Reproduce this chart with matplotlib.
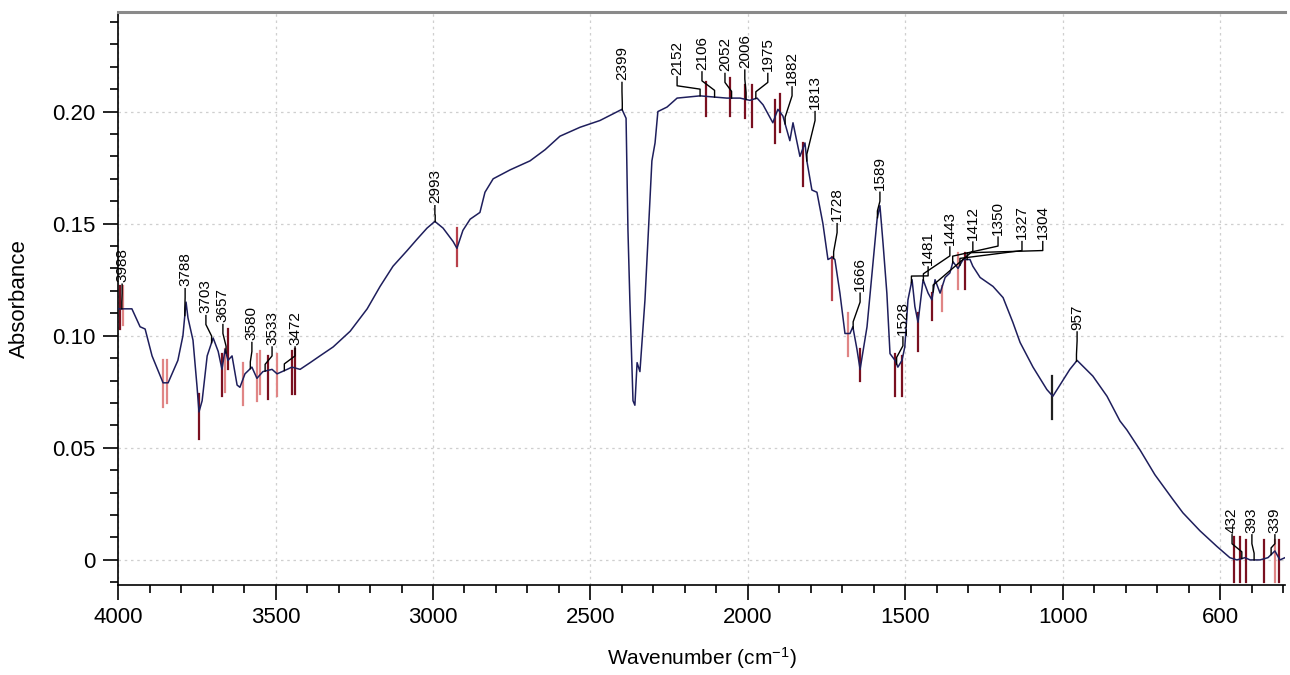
import numpy as np
import matplotlib.pyplot as plt
from matplotlib.ticker import FixedLocator

plt.rcParams['font.family'] = ['Liberation Sans', 'DejaVu Sans']
plt.rcParams['mathtext.default'] = 'regular'

# Spectrum (wavenumber in cm-1, absorbance)
wavenumber = [4000, 3956, 3930, 3914, 3892, 3857, 3841, 3810, 3794, 3784, 3778, 3762, 3749, 3743,
              3733, 3717, 3698, 3682, 3670, 3660, 3651, 3638, 3622, 3613, 3597, 3575, 3559, 3540,
              3511, 3495, 3463, 3448, 3422, 3390, 3359, 3317, 3263, 3209, 3168, 3127, 3082, 3051,
              3019, 2994, 2968, 2936, 2924, 2905, 2882, 2851, 2835, 2809, 2755, 2692, 2644, 2597,
              2533, 2470, 2400, 2387, 2381, 2375, 2365, 2359, 2352, 2343, 2327, 2311, 2305, 2295,
              2286, 2257, 2225, 2152, 2067, 2025, 1994, 1971, 1952, 1921, 1905, 1889, 1867, 1857,
              1835, 1819, 1813, 1797, 1781, 1762, 1746, 1733, 1724, 1708, 1692, 1676, 1667, 1654,
              1644, 1622, 1606, 1590, 1581, 1571, 1559, 1549, 1533, 1524, 1511, 1502, 1492, 1479,
              1470, 1460, 1444, 1428, 1416, 1406, 1390, 1374, 1359, 1349, 1333, 1317, 1295, 1286,
              1263, 1222, 1190, 1159, 1136, 1095, 1051, 1032, 978, 955, 905, 860, 819, 797, 755,
              708, 651, 619, 565, 511, 470, 448, 422, 406, 374, 349, 327, 311, 295]
absorbance = [0.112, 0.112, 0.104, 0.103, 0.091, 0.079, 0.079, 0.089, 0.100, 0.115, 0.108, 0.098, 0.077, 0.066,
              0.071, 0.091, 0.099, 0.093, 0.085, 0.094, 0.089, 0.091, 0.078, 0.077, 0.083, 0.086, 0.081, 0.084,
              0.085, 0.083, 0.085, 0.086, 0.085, 0.088, 0.091, 0.095, 0.102, 0.112, 0.122, 0.131, 0.138, 0.143,
              0.148, 0.151, 0.148, 0.142, 0.139, 0.147, 0.152, 0.155, 0.164, 0.170, 0.174, 0.178, 0.183, 0.189,
              0.193, 0.196, 0.201, 0.197, 0.147, 0.116, 0.071, 0.069, 0.088, 0.084, 0.116, 0.161, 0.178, 0.186,
              0.200, 0.202, 0.206, 0.207, 0.206, 0.206, 0.205, 0.206, 0.203, 0.195, 0.201, 0.198, 0.187, 0.195,
              0.180, 0.186, 0.178, 0.165, 0.164, 0.150, 0.134, 0.135, 0.134, 0.119, 0.101, 0.101, 0.104, 0.094,
              0.085, 0.104, 0.128, 0.152, 0.158, 0.141, 0.119, 0.092, 0.089, 0.086, 0.089, 0.095, 0.116, 0.125,
              0.113, 0.106, 0.125, 0.119, 0.116, 0.125, 0.119, 0.126, 0.128, 0.133, 0.130, 0.134, 0.134, 0.131,
              0.126, 0.122, 0.117, 0.106, 0.097, 0.086, 0.076, 0.073, 0.085, 0.089, 0.082, 0.073, 0.062, 0.058, 0.049,
              0.038, 0.027, 0.021, 0.013, 0.006, 0.001, 0.000, 0.001, 0.000, 0.000, 0.001, 0.004, 0.000, 0.001]

# Labelled peaks and where their numbers sit
peak_wn = [3988, 3788, 3703, 3657, 3580, 3533, 3472, 2993, 2399, 2152, 2106, 2052, 2006, 1975, 1882,
           1813, 1728, 1666, 1589, 1528, 1481, 1443, 1412, 1350, 1327, 1304, 957, 432, 393, 339]
label_wn = [3987, 3787, 3721, 3667, 3575, 3511, 3438, 2994, 2400, 2225, 2146, 2073, 2010, 1937, 1860,
            1787, 1717, 1644, 1581, 1508, 1428, 1359, 1286, 1206, 1130, 1064, 955, 463, 400, 327]
label_abs = [0.123, 0.121, 0.109, 0.105, 0.097, 0.095, 0.095, 0.158, 0.213, 0.2155, 0.2177, 0.217, 0.2185,
             0.217, 0.211, 0.200, 0.150, 0.119, 0.164, 0.0995, 0.1307, 0.1396, 0.1418, 0.144, 0.142, 0.142,
             0.1017, 0.0112, 0.0112, 0.0112]

# Red / pink marker lines (wavenumber, low, high, shade)
marker_wn = [3994, 3984, 3857, 3844, 3743, 3670, 3660, 3651, 3603, 3559, 3549, 3524, 3495, 3448, 3438,
             2924, 2133, 2057, 2010, 1988, 1914, 1898, 1825, 1733, 1683, 1645, 1533, 1511, 1460, 1416,
             1384, 1333, 1311, 1035, 457, 438, 419, 362, 327, 314]
marker_low = [0.103, 0.105, 0.068, 0.070, 0.054, 0.073, 0.075, 0.085, 0.069, 0.071, 0.074, 0.072, 0.073,
              0.074, 0.074, 0.131, 0.198, 0.198, 0.197, 0.193, 0.186, 0.191, 0.167, 0.116, 0.091, 0.080,
              0.073, 0.073, 0.093, 0.107, 0.111, 0.121, 0.121, 0.063, -0.010, -0.010, -0.010, -0.010,
              -0.010, -0.010]
marker_high = [0.122, 0.122, 0.089, 0.089, 0.074, 0.092, 0.094, 0.103, 0.088, 0.092, 0.093, 0.091, 0.092,
               0.093, 0.094, 0.148, 0.213, 0.215, 0.212, 0.212, 0.205, 0.208, 0.186, 0.135, 0.110, 0.094,
               0.092, 0.091, 0.110, 0.119, 0.122, 0.137, 0.137, 0.082, 0.010, 0.010, 0.009, 0.009,
               0.009, 0.009]
marker_shade = ['dark', 'pink', 'pink', 'pink', 'dark', 'dark', 'pink', 'dark', 'pink', 'pink', 'pink',
                'dark', 'pink', 'dark', 'dark', 'red', 'dark', 'dark', 'dark', 'dark', 'dark', 'dark',
                'dark', 'red', 'pink', 'dark', 'dark', 'dark', 'dark', 'dark', 'pink', 'pink', 'dark',
                'black', 'dark', 'dark', 'dark', 'dark', 'pink', 'dark']
shade_colors = {'dark': '#7a1020', 'pink': '#e08585', 'red': '#b8404a', 'black': '#202020'}

x_ticks = [4000, 3500, 3000, 2500, 2000, 1500, 1000, 500]
x_tick_labels = ['4000', '3500', '3000', '2500', '2000', '1500', '1000', '600']
y_ticks = [0, 0.05, 0.10, 0.15, 0.20]
y_tick_labels = ['0', '0.05', '0.10', '0.15', '0.20']

fig = plt.figure(figsize=(12.9, 6.75), dpi=100)
ax = fig.add_axes([0.0915, 0.1333, 0.9046, 0.8489])

# markers first so the curve sits on top
for w, lo, hi, s in zip(marker_wn, marker_low, marker_high, marker_shade):
    ax.plot([w, w], [lo, hi], color=shade_colors[s], lw=1.6, zorder=2)

ax.plot(wavenumber, absorbance, color='#1e1e5c', lw=1.1, zorder=3)

# peak labels with leader lines
wn_asc = np.array(wavenumber[::-1])
ab_asc = np.array(absorbance[::-1])
for p, tw, ta in zip(peak_wn, label_wn, label_abs):
    pa = np.interp(p, wn_asc, ab_asc)
    xs = [p, p, tw, tw]
    ys = [pa, pa + 0.003, ta - 0.004, ta]
    ax.plot(xs, ys, color='black', lw=1.0, zorder=4)
    ax.text(tw, ta + 0.001, str(p), rotation=90, ha='center', va='bottom',
            fontsize=11, family=['Liberation Sans Narrow', 'Liberation Sans'], zorder=5)

ax.set_xlim(4000, 295)
ax.set_ylim(-0.0112, 0.2444)

ax.set_xticks(x_ticks, labels=x_tick_labels)
ax.xaxis.set_minor_locator(FixedLocator([v for v in range(4000, 290, -100) if v not in x_ticks]))
ax.set_yticks(y_ticks, labels=y_tick_labels)
ax.yaxis.set_minor_locator(FixedLocator([v / 100 for v in range(-1, 25) if v % 5 != 0]))

ax.tick_params(which='major', direction='out', length=11, width=1.2, labelsize=16, pad=5)
ax.tick_params(which='minor', direction='out', length=6, width=1.2)

ax.grid(True, which='major', linestyle=(0, (2, 3)), color='#cfcfcf', lw=0.9, zorder=0)

ax.spines['right'].set_visible(False)
ax.spines['top'].set_color('#8a8a8a')
ax.spines['top'].set_linewidth(2.2)
ax.spines['left'].set_linewidth(1.2)
ax.spines['bottom'].set_linewidth(1.2)

ax.set_xlabel('Wavenumber (cm$^{-1}$)', fontsize=15, labelpad=12)
ax.set_ylabel('Absorbance', fontsize=16, labelpad=16)

plt.savefig('out.png', dpi=100)
